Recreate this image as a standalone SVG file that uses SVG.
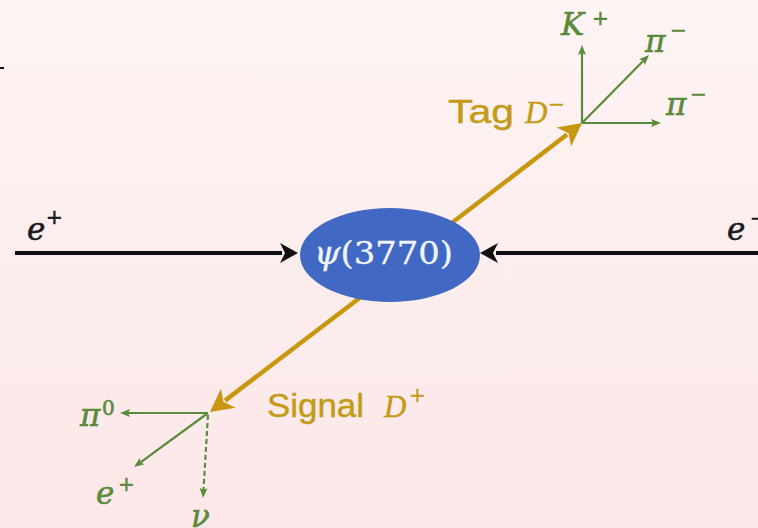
<svg xmlns="http://www.w3.org/2000/svg" width="758" height="528" viewBox="0 0 758 528">
  <defs>
    <linearGradient id="bg" x1="0" y1="0" x2="0" y2="1">
      <stop offset="0" stop-color="#fdf4f3"/>
      <stop offset="1" stop-color="#fce7e8"/>
    </linearGradient>
    <!-- beam arrowhead (black) -->
    <marker id="ah-beam" markerUnits="userSpaceOnUse" viewBox="0 -12 24 24" markerWidth="24" markerHeight="24" refX="6" refY="0" orient="auto">
      <path d="M22,0 L4,-10 L9,0 L4,10 Z" fill="#111"/>
    </marker>
    <!-- D meson arrowhead (gold) -->
    <marker id="ah-meson" markerUnits="userSpaceOnUse" viewBox="0 -13 28 26" markerWidth="28" markerHeight="26" refX="6" refY="0" orient="auto">
      <path d="M25,0 L2,-12 L8,0 L2,12 Z" fill="#c8970f"/>
    </marker>
    <!-- decay product arrowhead (green) -->
    <marker id="ah-decay" markerUnits="userSpaceOnUse" viewBox="0 -5 12 10" markerWidth="12" markerHeight="10" refX="2" refY="0" orient="auto">
      <path d="M10,0 L0,-4 L2,0 L0,4 Z" fill="#5a8a3c"/>
    </marker>
    <style>
      .beam { stroke: #111; stroke-width: 4; fill: none; marker-end: url(#ah-beam); }
      .meson { stroke: #c8970f; stroke-width: 4.5; fill: none; marker-end: url(#ah-meson); }
      .decay { stroke: #5a8a3c; stroke-width: 2.2; fill: none; marker-end: url(#ah-decay); }
      .dashed { stroke-dasharray: 5 3; }
      .math { font-family: "DejaVu Serif", "Liberation Serif", serif; font-style: italic; font-size: 31px; stroke-width: 0.6px; }
      .sup { font-family: "DejaVu Serif", "Liberation Serif", serif; font-style: normal; font-size: 20px; stroke-width: 0.6px; }
      .green { fill: #5a8a3c; stroke: #5a8a3c; }
      .black { fill: #1a1a1a; stroke: #1a1a1a; }
      .gold { fill: #c49a16; stroke: #c49a16; stroke-width: 0.4px; }
      .word { font-family: "Liberation Sans", Arial, sans-serif; font-size: 33px; }
      .dsym { font-family: "Liberation Serif", serif; font-style: italic; font-size: 31px; }
    </style>
  </defs>

  <rect width="758" height="528" fill="url(#bg)"/>
  <rect x="0" y="67" width="4" height="2" fill="#111"/>

  <g id="connectors">
    <!-- incoming beams -->
    <line class="beam" x1="15" y1="253" x2="282" y2="253"/>
    <line class="beam" x1="758" y1="253" x2="496" y2="253"/>
    <!-- D meson pair -->
    <line class="meson" x1="440" y1="232" x2="567" y2="134.5"/>
    <line class="meson" x1="370" y1="290" x2="225" y2="400.6"/>
    <!-- tag side decays -->
    <line class="decay" x1="582" y1="123" x2="582" y2="53"/>
    <line class="decay" x1="582" y1="123" x2="643.4" y2="60.7"/>
    <line class="decay" x1="582" y1="123" x2="653" y2="123"/>
    <!-- signal side decays -->
    <line class="decay" x1="208" y1="413" x2="128" y2="413"/>
    <line class="decay" x1="208" y1="413" x2="140.5" y2="462.3"/>
    <line class="decay dashed" x1="208" y1="415" x2="203.5" y2="490"/>
  </g>

  <g id="psi3770">
    <ellipse cx="390" cy="255" rx="90" ry="47" fill="#4169c3"/>
    <text x="314" y="264" font-family="DejaVu Serif, Liberation Serif, serif" font-size="32" fill="#f2f5ff" stroke="#f2f5ff" stroke-width="0.3" textLength="139" lengthAdjust="spacingAndGlyphs"><tspan font-style="italic">ψ</tspan>(3770)</text>
  </g>

  <g id="beam-e-plus">
    <text class="math black" x="27" y="240">e</text>
    <text class="sup black" x="46" y="224" font-size="22">+</text>
  </g>
  <g id="beam-e-minus">
    <text class="math black" x="727" y="240">e</text>
    <text class="sup black" x="750" y="225" font-size="22">−</text>
  </g>

  <g id="tag-d">
    <text class="word gold" x="448" y="123" textLength="66" lengthAdjust="spacingAndGlyphs">Tag</text>
    <text class="dsym gold" x="525" y="123">D</text>
    <text class="sup gold" x="548" y="111">−</text>
  </g>
  <g id="signal-d">
    <text class="word gold" x="267" y="417" textLength="97" lengthAdjust="spacingAndGlyphs">Signal</text>
    <text class="dsym gold" x="384" y="417">D</text>
    <text class="sup gold" x="409" y="402">+</text>
  </g>

  <g id="tag-k-plus">
    <text class="math green" x="561" y="35">K</text>
    <text class="sup green" x="592" y="25">+</text>
  </g>
  <g id="tag-pi-minus-1">
    <text class="math green" x="645" y="52">π</text>
    <text class="sup green" x="670" y="37">−</text>
  </g>
  <g id="tag-pi-minus-2">
    <text class="math green" x="666" y="115">π</text>
    <text class="sup green" x="690" y="101">−</text>
  </g>

  <g id="signal-pi-zero">
    <text class="math green" x="80" y="426">π</text>
    <text class="sup green" x="102" y="415">0</text>
  </g>
  <g id="signal-e-plus">
    <text class="math green" x="96" y="504">e</text>
    <text class="sup green" x="118" y="491">+</text>
  </g>
  <g id="signal-nu">
    <text class="math green" x="191" y="527">ν</text>
  </g>
</svg>
